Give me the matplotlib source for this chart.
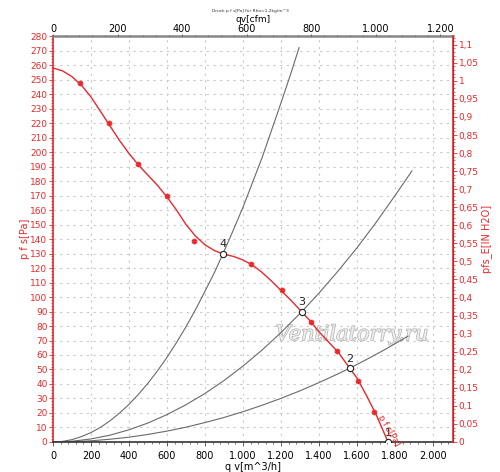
import numpy as np
import matplotlib
matplotlib.use("Agg")
import matplotlib.pyplot as plt
import matplotlib.patheffects as pe
from matplotlib.ticker import FuncFormatter, MultipleLocator

# fan curve p f s [Pa] over q v [m^3/h]
fan_q = [0, 50, 100, 150, 200, 250, 300, 350, 400, 450, 500, 550, 600, 650, 700, 750,
         800, 850, 900, 950, 1000, 1050, 1100, 1150, 1200, 1250, 1300, 1350, 1400,
         1450, 1500, 1550, 1600, 1650, 1700, 1750, 1763]
fan_p = [258, 256, 252, 246, 238, 228, 218, 208, 199, 191, 184, 177, 169, 160, 150, 142,
         136, 132, 129.5, 128, 125.5, 122, 117, 111, 104.5, 98, 91, 84, 76,
         69, 62, 53, 44, 32, 19, 4, 0]

# measured points (asterisks)
meas_q = [142, 295, 447, 600, 742, 1042, 1205, 1358, 1495, 1605, 1690]
meas_p = [247.6, 220, 192, 170, 138.6, 122.7, 105, 83, 62.7, 42, 20.7]

# system curves
sys4_q = [0, 50, 100, 150, 200, 250, 300, 350, 400, 450, 500, 550, 600, 650, 700,
          750, 800, 850, 895, 950, 1000, 1050, 1100, 1150, 1200, 1250, 1295]
sys4_p = [0, 0.4, 1.6, 3.7, 6.5, 10.1, 14.6, 19.9, 26, 32.9, 40.6, 49.1, 58.4, 68.6, 79.5,
          91.3, 104, 117, 130, 146.5, 162, 179, 196, 215, 234, 253.5, 272]
sys3_q = [0, 100, 200, 300, 400, 500, 600, 700, 800, 900, 1000, 1100, 1200, 1310,
          1400, 1500, 1600, 1700, 1800, 1889]
sys3_p = [0, 0.5, 2.1, 4.7, 8.4, 13.1, 18.9, 25.7, 33.5, 42.4, 52.4, 63.4, 75.5, 90,
          102.7, 117.9, 134, 151.4, 170, 187]
sys2_q = [0, 100, 200, 300, 400, 500, 600, 700, 800, 900, 1000, 1100, 1200, 1300,
          1400, 1500, 1563, 1650, 1750, 1868]
sys2_p = [0, 0.2, 0.8, 1.9, 3.3, 5.2, 7.5, 10.2, 13.4, 16.9, 20.9, 25.3, 30.1, 35.3,
          41, 47, 51, 56.9, 64, 73]

# operating points
op_labels = ["1", "2", "3", "4"]
op_q = [1763, 1563, 1310, 895]
op_p = [0, 51, 90, 130]

RED = "#e8282b"
GREY = "#6a6a6a"
M3H_PER_CFM = 1.69901
PA_PER_INH2O = 249.089

fig = plt.figure(figsize=(5, 4.72), dpi=100)
ax = fig.add_axes([0.106, 0.0636, 0.8, 0.86])
ax.set_xlim(0, 2105)
ax.set_ylim(0, 280)

ax.text(1575, 74, "Ventilatorry.ru", fontsize=15, style="italic", color="#eeeeee",
        ha="center", va="center", family="DejaVu Serif", zorder=1,
        path_effects=[pe.Stroke(linewidth=1.0, foreground="#b0b0b0"), pe.Normal()])

ax.plot(sys4_q, sys4_p, color=GREY, lw=0.8)
ax.plot(sys3_q, sys3_p, color=GREY, lw=0.8)
ax.plot(sys2_q, sys2_p, color=GREY, lw=0.8)
ax.plot(fan_q, fan_p, color=RED, lw=1.0)
ax.plot(meas_q, meas_p, ls="none", marker="o", ms=3.5, mfc="#f08080", mec=RED, mew=0.6)
ax.plot(meas_q, meas_p, ls="none", marker=(6, 2, 0), ms=3.5, mec=RED, mew=0.6)
ax.plot(op_q, op_p, ls="none", marker="o", ms=4.5, mfc="white", mec="#222222", mew=0.8, zorder=5)
for lab, q, p in zip(op_labels, op_q, op_p):
    ax.text(q, p + 3, lab, fontsize=8, color="#222222", ha="center", va="bottom")

ax.text(1768, 8, "p f s[Pa]", color=RED, fontsize=6, rotation=-59,
        ha="center", va="center")

ax.xaxis.set_major_locator(MultipleLocator(200))
ax.xaxis.set_minor_locator(MultipleLocator(40))
ax.yaxis.set_major_locator(MultipleLocator(10))
ax.yaxis.set_minor_locator(MultipleLocator(2))
ax.grid(True, which="major", color="#c8c8c8", ls=(0, (2, 4)), lw=0.8)


def dotted_thousands(v, pos):
    return "{:,.0f}".format(v).replace(",", ".")


ax.xaxis.set_major_formatter(FuncFormatter(dotted_thousands))
ax.tick_params(axis="x", labelsize=7, length=3, width=0.6, color="#444444")
ax.tick_params(axis="x", which="minor", length=1.5, width=0.5, color="#444444")
ax.tick_params(axis="y", labelsize=6.5, colors=RED, length=3, width=0.6, pad=1)
ax.tick_params(axis="y", which="minor", length=1.5, width=0.5, color=RED)
ax.spines["left"].set_color(RED)
ax.spines["left"].set_linewidth(1.2)
ax.spines["bottom"].set_color("#333333")
ax.spines["bottom"].set_linewidth(1.2)
ax.spines["top"].set_color("#888888")
ax.spines["top"].set_linewidth(1.8)
ax.set_xlabel("q v[m^3/h]", fontsize=7, labelpad=1)
ax.set_ylabel("p f s[Pa]", fontsize=7, color=RED, labelpad=0)

# right axis in inch H2O
axr = ax.twinx()
axr.set_ylim(0, 280 / PA_PER_INH2O)
axr.yaxis.set_major_locator(MultipleLocator(0.05))
axr.yaxis.set_minor_locator(MultipleLocator(0.01))


def comma_dec(v, pos):
    s = "{:.2f}".format(v).rstrip("0").rstrip(".")
    return s.replace(".", ",")


axr.yaxis.set_major_formatter(FuncFormatter(comma_dec))
axr.tick_params(axis="y", labelsize=6.5, colors=RED, length=3, width=0.6, pad=1)
axr.tick_params(axis="y", which="minor", length=1.5, width=0.5, color=RED)
axr.spines["right"].set_color(RED)
axr.spines["right"].set_linewidth(1.2)
axr.spines["left"].set_visible(False)
axr.spines["top"].set_visible(False)
axr.spines["bottom"].set_visible(False)
axr.set_ylabel("pfs_E[IN H2O]", fontsize=7, color=RED, labelpad=2)

# top axis in cfm
axt = ax.twiny()
axt.set_xlim(0, 2105 / M3H_PER_CFM)
axt.xaxis.set_major_locator(MultipleLocator(200))
axt.xaxis.set_minor_locator(MultipleLocator(40))
axt.xaxis.set_major_formatter(FuncFormatter(dotted_thousands))
axt.tick_params(axis="x", labelsize=7, length=1.5, width=0.6, color="#555555", pad=0)
axt.tick_params(axis="x", which="minor", length=1, width=0.5, color="#555555")
for s in ["left", "right", "bottom", "top"]:
    axt.spines[s].set_visible(False)
axt.set_xlabel("qv[cfm]", fontsize=6.5, labelpad=1.5)

fig.text(0.5, 0.977, "Druck p f s[Pa] für Rho=1,2kg/m^3", fontsize=3.2,
         ha="center", va="center", color="#333333")

fig.savefig("out.png", dpi=100)
